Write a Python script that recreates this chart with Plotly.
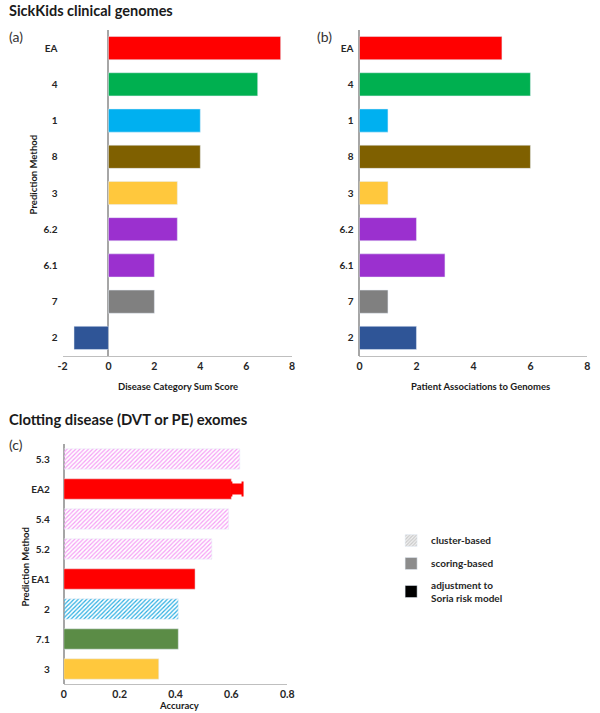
import plotly.graph_objects as go

# ---------------- data ----------------
methods_ab = ["EA", "4", "1", "8", "3", "6.2", "6.1", "7", "2"]
sum_score_a = [7.5, 6.5, 4, 4, 3, 3, 2, 2, -1.5]
patient_assoc_b = [5, 6, 1, 6, 1, 2, 3, 1, 2]
colors_ab = ["#FF0000", "#00B050", "#00B0F0", "#7F6000", "#FFC83D",
             "#9B30CF", "#9B30CF", "#808080", "#2F5597"]

methods_c = ["5.3", "EA2", "5.4", "5.2", "EA1", "2", "7.1", "3"]
accuracy_c = [0.63, 0.60, 0.59, 0.53, 0.47, 0.41, 0.41, 0.34]
type_c = ["cluster", "scoring", "cluster", "cluster", "scoring", "cluster", "scoring", "scoring"]
colors_c = ["#F5A0F5", "#FF0000", "#F5A0F5", "#F5A0F5", "#FF0000", "#2AAEE2", "#5B8C46", "#FFC83D"]
bg_c = ["#FFEAFF", "#FF0000", "#FFEAFF", "#FFEAFF", "#FF0000", "#E2F5FC", "#5B8C46", "#FFC83D"]
soria_method = ["EA2"]
soria_base = [0.60]
soria_adjust = [0.04]

W, H = 600, 713
def px(x):
    return x / W
def py(y):
    return 1 - y / H

FONT = "Lato"
TXT = "#262626"

fig = go.Figure()

# panel a
fig.add_trace(go.Bar(x=sum_score_a, y=methods_ab, orientation="h",
                     marker=dict(color=colors_ab), width=0.64,
                     xaxis="x", yaxis="y", showlegend=False))
# panel b
fig.add_trace(go.Bar(x=patient_assoc_b, y=methods_ab, orientation="h",
                     marker=dict(color=colors_ab), width=0.64,
                     xaxis="x2", yaxis="y2", showlegend=False))

# panel c: one trace per (type, colour) so hatch colours are scalar
groups = []
for i, m in enumerate(methods_c):
    key = (type_c[i], colors_c[i], bg_c[i])
    if key not in groups:
        groups.append(key)
for (t, col, bg) in groups:
    idx = [i for i in range(len(methods_c)) if (type_c[i], colors_c[i], bg_c[i]) == (t, col, bg)]
    if t == "cluster":
        marker = dict(color=bg, pattern=dict(shape="/", fgcolor=col, size=3, solidity=0.4,
                                             fillmode="replace"))
    else:
        marker = dict(color=col)
    fig.add_trace(go.Bar(x=[accuracy_c[i] for i in idx], y=[methods_c[i] for i in idx],
                         orientation="h", width=0.68, marker=marker,
                         xaxis="x3", yaxis="y3", showlegend=False))

# Soria adjustment (error-bar style)
fig.add_trace(go.Scatter(x=soria_base, y=soria_method, mode="markers",
                         marker=dict(size=1, color="rgba(0,0,0,0)"),
                         error_x=dict(type="data", array=soria_adjust, arrayminus=[0],
                                      color="#FF0000", thickness=11, width=0),
                         xaxis="x3", yaxis="y3", showlegend=False, hoverinfo="skip"))
fig.add_trace(go.Scatter(x=soria_base, y=soria_method, mode="markers",
                         marker=dict(size=1, color="rgba(0,0,0,0)"),
                         error_x=dict(type="data", array=soria_adjust, arrayminus=[0],
                                      color="#FF0000", thickness=2, width=7.5),
                         xaxis="x3", yaxis="y3", showlegend=False, hoverinfo="skip"))

# legend entries
fig.add_trace(go.Bar(x=[None], y=[None], name="cluster-based", orientation="h",
                     marker=dict(color="#F2F2F2", pattern=dict(shape="/", fgcolor="#A0A0A0", size=3, solidity=0.5)),
                     xaxis="x3", yaxis="y3", legendgroup="g1"))
fig.add_trace(go.Bar(x=[None], y=[None], name="scoring-based", orientation="h",
                     marker=dict(color="#8C8C8C"),
                     xaxis="x3", yaxis="y3", legendgroup="g2"))
fig.add_trace(go.Bar(x=[None], y=[None], name="adjustment to<br>Soria risk model", orientation="h",
                     marker=dict(color="#000000"),
                     xaxis="x3", yaxis="y3", legendgroup="g3"))

tickf = dict(family=FONT, size=10.5, color=TXT, weight="bold")
ytickf = dict(family=FONT, size=10, color=TXT, weight="bold")

fig.update_layout(
    width=W, height=H, margin=dict(l=0, r=0, t=0, b=0),
    paper_bgcolor="white", plot_bgcolor="white",
    font=dict(family=FONT, color=TXT),
    xaxis=dict(domain=[px(58.7), px(293)], range=[-2, 8], tickvals=[-2, 0, 2, 4, 6, 8],
               ticktext=["-2", "0", "2", "4", "6", "8"],
               showgrid=False, showline=True, linecolor="#BFBFBF", linewidth=1,
               zeroline=True, zerolinecolor="#A6A6A6", zerolinewidth=1.5,
               ticks="", tickfont=tickf, anchor="y"),
    yaxis=dict(domain=[py(356), py(30)], categoryorder="array", categoryarray=methods_ab,
               autorange="reversed", showgrid=False, showline=False, zeroline=False,
               ticks="", tickfont=ytickf, ticklabelstandoff=4, anchor="x"),
    xaxis2=dict(domain=[px(361.7), px(594.3)], range=[0, 8], tickvals=[0, 2, 4, 6, 8],
                showgrid=False, showline=True, linecolor="#BFBFBF", linewidth=1,
                zeroline=True, zerolinecolor="#A6A6A6", zerolinewidth=1.5,
                ticks="", tickfont=tickf, anchor="y2"),
    yaxis2=dict(domain=[py(356), py(30)], categoryorder="array", categoryarray=methods_ab,
                autorange="reversed", showgrid=False, showline=False, zeroline=False,
                ticks="", tickfont=ytickf, ticklabelstandoff=5, anchor="x2"),
    xaxis3=dict(domain=[px(60), px(288)], range=[0, 0.8], tickvals=[0, 0.2, 0.4, 0.6, 0.8],
                ticktext=["0", "0.2", "0.4", "0.6", "0.8"],
                showgrid=False, showline=True, linecolor="#BFBFBF", linewidth=1,
                zeroline=True, zerolinecolor="#A6A6A6", zerolinewidth=1.5,
                ticks="", tickfont=tickf, anchor="y3"),
    yaxis3=dict(domain=[py(684), py(444)], categoryorder="array", categoryarray=methods_c,
                autorange="reversed", showgrid=False, showline=False, zeroline=False,
                ticks="", tickfont=ytickf, ticklabelstandoff=13, anchor="x3"),
    legend=dict(x=px(394), y=py(526), xanchor="left", yanchor="top",
                font=dict(family=FONT, size=10, color=TXT, weight="bold"),
                tracegroupgap=4, bgcolor="rgba(0,0,0,0)", itemwidth=30),
)

def ann(text, x, y, size, bold=False, angle=0, xanchor="center"):
    fig.add_annotation(text=text, x=px(x), y=py(y), xref="paper", yref="paper",
                       showarrow=False, xanchor=xanchor, yanchor="middle", textangle=angle,
                       font=dict(family=FONT, size=size, color="#1A1A1A" if bold else "#333333",
                                 weight="bold" if bold else "normal"))

ann("SickKids clinical genomes", 2, 10, 14.5, bold=True, xanchor="left")
ann("(a)", 2, 36, 14, xanchor="left")
ann("(b)", 316, 36, 14, xanchor="left")
ann("Prediction Method", 30, 174, 9.5, bold=True, angle=-90)
ann("Disease Category Sum Score", 177, 386, 9.5, bold=True)
ann("Patient Associations to Genomes", 485, 387, 9.5, bold=True)
ann("Clotting disease (DVT or PE) exomes", 2, 419, 14.8, bold=True, xanchor="left")
ann("(c)", 2, 444, 14, xanchor="left")
ann("Prediction Method", 20, 567, 9.5, bold=True, angle=-90)
ann("Accuracy", 178, 705, 9.5, bold=True)

fig.write_html("out.html", config={"displayModeBar": False},
               post_script="document.body.style.margin='0px';document.body.style.overflow='hidden';")
